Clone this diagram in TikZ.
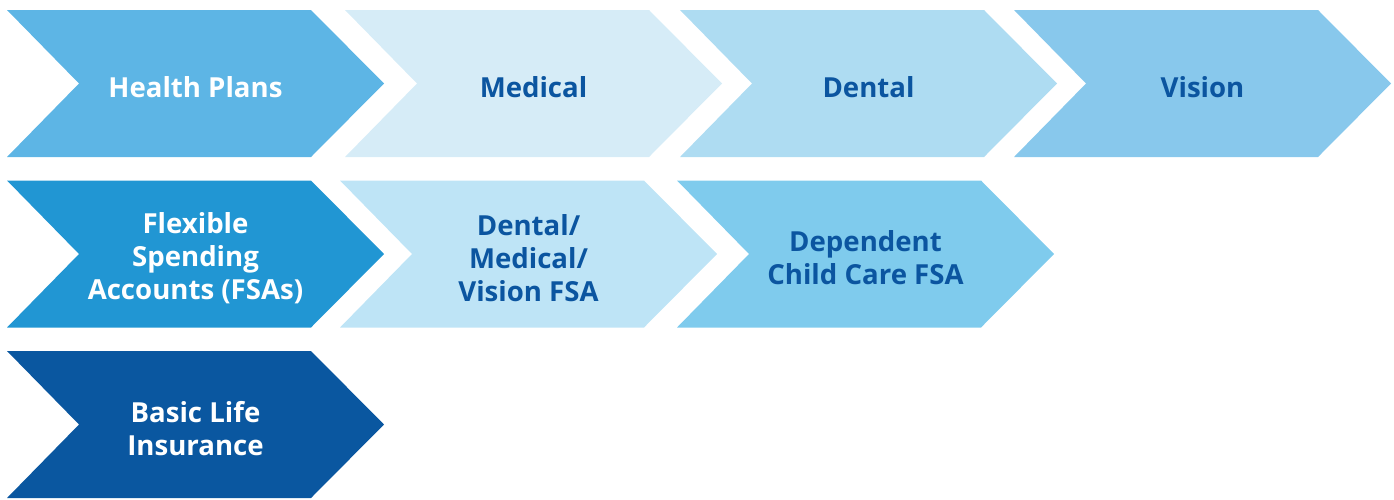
\documentclass[tikz,border=0pt]{standalone}
\usepackage{fontspec}
\setmainfont{Open Sans}
\definecolor{cHealth}{HTML}{5DB5E5}
\definecolor{cMedical}{HTML}{D6ECF7}
\definecolor{cDental}{HTML}{AEDCF2}
\definecolor{cVision}{HTML}{88C8EC}
\definecolor{cFSA}{HTML}{2196D3}
\definecolor{cDMV}{HTML}{BEE4F6}
\definecolor{cDep}{HTML}{7FCBED}
\definecolor{cLife}{HTML}{0A57A0}
\definecolor{cText}{HTML}{0B55A0}
\tikzset{
  chevlabel/.style={align=center, font=\fontsize{27.6}{33}\selectfont\bfseries, inner sep=0pt}
}
\newcommand\mychev[6]{%
  \fill[#4] (#2,#3) -- ++(304,0) -- ++(73,73.5) -- ++(-73,73.5) -- ++(-304,0) -- ++(72,-73.5) -- cycle;
  \node[chevlabel, text=#5] (#1) at (#2+188.5,#3+77.5) {#6};
}
\begin{document}
\begin{tikzpicture}[x=1pt,y=-1pt]
\useasboundingbox (0,0) rectangle (1394,499);
\mychev{health}{7}{10}{cHealth}{white}{Health Plans}
\mychev{medical}{345}{10}{cMedical}{cText}{Medical}
\mychev{dental}{680}{10}{cDental}{cText}{Dental}
\mychev{vision}{1014}{10}{cVision}{cText}{Vision}
\mychev{fsa}{7}{180.5}{cFSA}{white}{Flexible\\Spending\\Accounts (FSAs)}
\mychev{dmv}{340}{180.5}{cDMV}{cText}{Dental/\\Medical/\\Vision FSA}
\mychev{dep}{677}{180.5}{cDep}{cText}{Dependent\\Child Care FSA}
\mychev{life}{7}{351}{cLife}{white}{Basic Life\\Insurance}
\end{tikzpicture}
\end{document}
